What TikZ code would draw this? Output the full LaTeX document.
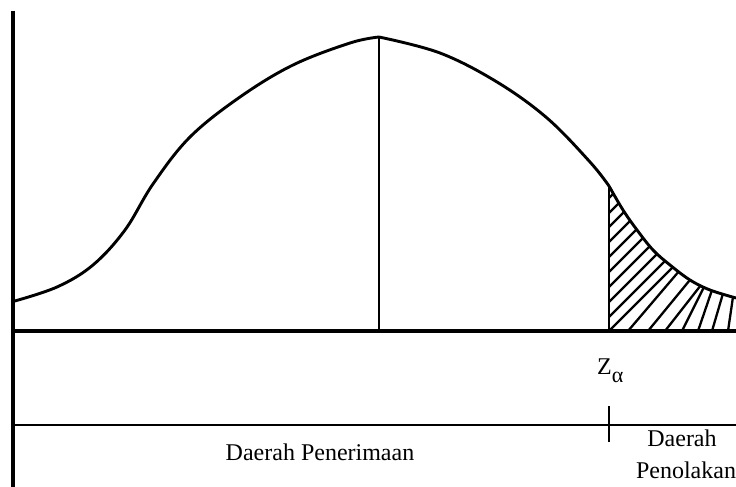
\documentclass[tikz,border=0pt]{standalone}
\usepackage{fontspec}
\setmainfont{Liberation Serif}
\begin{document}
\begin{tikzpicture}[x=1pt,y=-1pt,
  vaxis/.style={line width=3.6pt},
  haxis/.style={line width=3.2pt},
  curve/.style={line width=2.9pt, line join=round},
  hatch/.style={line width=2.3pt},
  lbl/.style={inner sep=0pt, font=\fontsize{24}{30}\selectfont}]
\useasboundingbox (0,0) rectangle (736,487);
% axes
\draw[vaxis] (13,11) -- (13,487);
\draw[haxis] (13,331) -- (736,331);
\draw[line width=2.5pt] (13,425) -- (736,425);
% mean line and critical line
\draw[curve] (379,37) -- (379,331);
\draw[curve] (609,185) -- (609,331);
% curve
\draw[curve] plot[smooth, tension=0.6] coordinates {
 (13,301.5) (57,287) (93,265) (125,230) (153,184) (190,137) (240,97)
 (293,65) (350,43) (379,37)};
\draw[curve] plot[smooth, tension=0.6] coordinates {
 (379,37) (440,53) (497,82) (547,118) (590,162) (609,186)};
\draw[curve] plot[smooth, tension=0.6] coordinates {
 (609,186) (623,210) (637,230) (653,250) (670,265) (690,280) (710,290) (736,298)};
% hatching
\begin{scope}
\clip (609,331) -- (609,186) -- plot[smooth, tension=0.6] coordinates {
 (609,186) (623,210) (637,230) (653,250) (670,265) (690,280) (710,290) (736,298)}
 -- (736,331) -- cycle;
\foreach \y in {198,213,227,242,257,272,287,302,317,331}
  \draw[hatch] (609,\y) -- ++(80,-80);
\draw[hatch] (628,331) -- (680,270);
\draw[hatch] (648,331) -- (694,275);
\draw[hatch] (665,331) -- (701,285);
\draw[hatch] (682,331) -- (705,285);
\draw[hatch] (698,331) -- (712,290);
\draw[hatch] (712,331) -- (724,290);
\draw[hatch] (728,331) -- (734,290);
\end{scope}
% tick
\draw[line width=2.6pt] (609,406) -- (609,442);
% labels
\node[inner sep=0pt, anchor=base west] (z) at (597,374)
  {\fontsize{24}{24}\selectfont Z\raisebox{-8pt}{\fontsize{22}{22}\selectfont α}};
\node[lbl, anchor=base] (acc) at (320,460) {Daerah Penerimaan};
\node[lbl, anchor=base] (rej1) at (682,446) {Daerah};
\node[lbl, anchor=base] (rej2) at (686,478) {Penolakan};
\end{tikzpicture}
\end{document}
